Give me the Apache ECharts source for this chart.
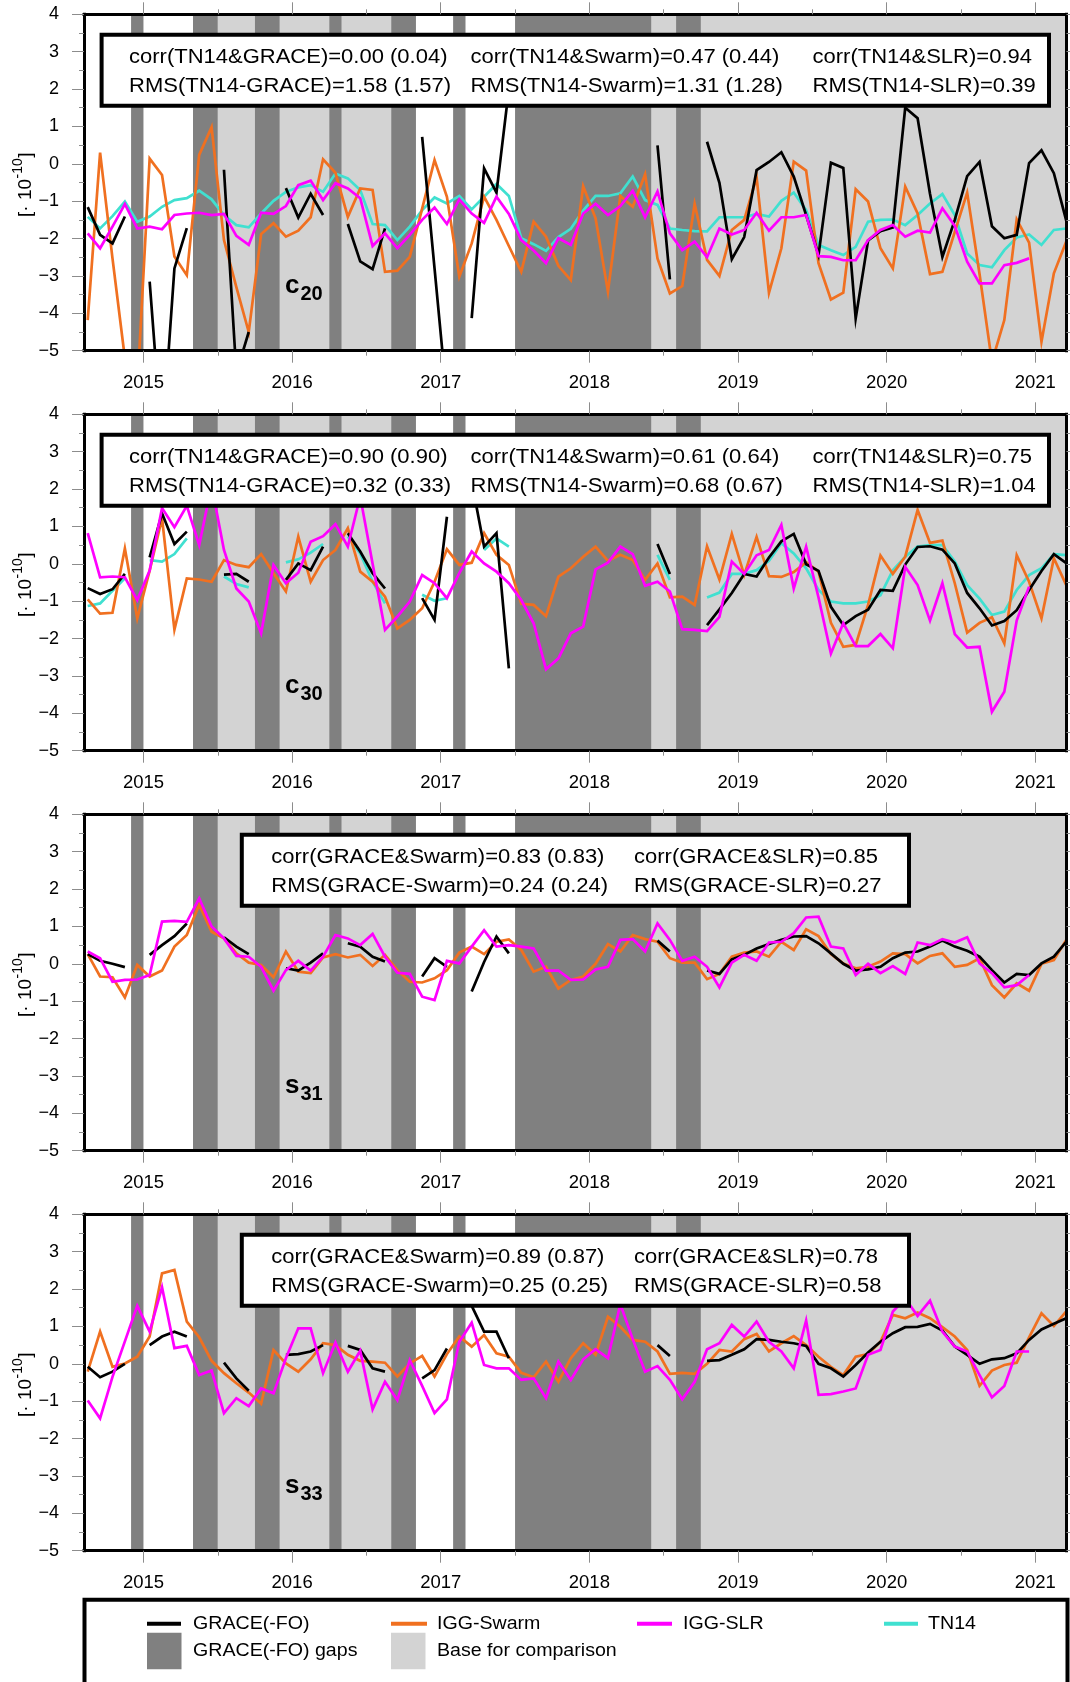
<!DOCTYPE html>
<html>
<head>
<meta charset="utf-8">
<title>GRACE(-FO), IGG-Swarm, IGG-SLR and TN14 low-degree coefficients</title>
<script src="https://cdn.jsdelivr.net/npm/echarts@6/dist/echarts.min.js"></script>
<style>
  html, body { margin: 0; padding: 0; background: #ffffff; }
  #chart { width: 1070px; height: 1682px; }
</style>
</head>
<body>
<div id="chart"></div>
<script>
// ---------------------------------------------------------------------------
// Monthly series, Aug 2014 .. Mar 2021 (80 months), values in 1e-10.
// null marks a month without a solution.
// ---------------------------------------------------------------------------
const N = null;

// Mid-month epochs (decimal years) starting August 2014
const MONTH_COUNT = 80;
const MONTHS = Array.from({ length: MONTH_COUNT }, (_, k) => 2014 + (7 + k + 0.5) / 12);

// Axis ticks
const YEAR_TICKS = [2015, 2016, 2017, 2018, 2019, 2020, 2021];
const HALF_YEAR_TICKS = [2015.5, 2016.5, 2017.5, 2018.5, 2019.5, 2020.5];

// GRACE(-FO) gap periods and periods used as comparison base [start, end]
const GAPS = [
  [2014.9167, 2015.0], [2015.3333, 2015.5], [2015.75, 2015.9167], [2016.25, 2016.3333],
  [2016.6667, 2016.8333], [2017.0833, 2017.1667], [2017.5, 2018.4167], [2018.5833, 2018.75]
];
const BASE = [
  [2015.5, 2015.75], [2015.9167, 2016.25], [2016.3333, 2016.6667],
  [2018.4167, 2018.5833], [2018.75, 2021.25]
];

// ---- C20 ----
const C20_GRACE = [
  -1.16, -1.9, -2.13, -1.41, N, -3.15, -7.5, -2.8, -1.72, N,
  N, -0.16, -5.6, -4.5, N, N, -0.65, -1.44, -0.8, -1.37,
  N, -1.61, -2.61, -2.82, -1.73, N, N, 0.72, -2.8, -6.3,
  N, -4.13, -0.12, -0.77, 2.0, N, N, N, N, N,
  N, N, N, N, N, N, 0.49, -3.09, N, N,
  0.59, -0.51, -2.55, -1.96, -0.17, 0.05, 0.31, -0.34, -1.37, -2.44,
  0.03, -0.11, -4.14, -2.05, -1.8, -1.7, 1.5, 1.22, -0.8, -2.49,
  -1.5, -0.33, 0.05, -1.67, -1.99, -1.9, 0.02, 0.36, -0.25, -1.52
];
const C20_SWARM = [
  -4.18, 0.3, -2.53, -5.2, -6.05, 0.14, -0.3, -2.48, -2.98, 0.24,
  0.98, -2.04, -3.3, -4.5, -1.88, -1.59, -1.95, -1.79, -1.43, 0.12,
  -0.24, -1.42, -0.66, -0.7, -2.89, -2.86, -2.49, -1.2, 0.1, -0.88,
  -3.02, -2.13, -0.88, -1.5, -2.2, -2.89, -1.55, -1.95, -2.73, -3.11,
  -0.6, -1.46, -3.42, -0.86, -1.15, -0.28, -2.53, -3.47, -3.27, -1.07,
  -2.57, -3.0, -1.77, -1.5, -0.36, -3.45, -2.26, 0.06, -0.18, -2.66,
  -3.63, -3.45, -0.68, -1.01, -2.26, -2.8, -0.61, -1.33, -2.95, -2.89,
  -1.82, -0.77, -2.95, -5.3, -4.18, -1.49, -2.11, -4.76, -2.93, -2.08
];
const C20_SLR = [
  -1.86, -2.26, -1.68, -1.08, -1.73, -1.68, -1.75, -1.37, -1.33, -1.31,
  -1.37, -1.34, -1.93, -2.17, -1.31, -1.34, -1.13, -0.57, -0.45, -0.97,
  -0.52, -0.66, -0.92, -2.2, -1.86, -2.26, -1.9, -1.5, -1.17, -1.61,
  -0.95, -1.33, -1.58, -0.88, -1.34, -2.04, -2.32, -2.66, -1.99, -2.17,
  -1.33, -1.07, -1.37, -1.13, -0.72, -1.43, -0.74, -1.86, -2.31, -2.08,
  -2.5, -1.73, -1.89, -1.77, -1.31, -1.79, -1.43, -1.43, -1.37, -2.47,
  -2.49, -2.58, -2.58, -2.04, -1.77, -1.64, -1.95, -1.79, -1.84, -1.19,
  -1.66, -2.62, -3.2, -3.2, -2.71, -2.65, -2.53
];
const C20_TN14 = [
  -1.42, -1.73, -1.4, -1.01, -1.55, -1.41, -1.15, -0.97, -0.92, -0.72,
  -0.95, -1.37, -1.64, -1.7, -1.33, -0.99, -0.75, -0.63, -0.57, -0.75,
  -0.26, -0.39, -0.7, -1.61, -1.64, -2.04, -1.68, -1.24, -0.9, -1.06,
  -0.86, -1.22, -0.88, -0.54, -0.86, -1.99, -2.15, -2.33, -1.96, -1.74,
  -1.25, -0.86, -0.86, -0.79, -0.34, -0.97, -1.1, -1.73, -1.77, -1.8,
  -1.81, -1.43, -1.43, -1.43, -1.34, -1.41, -0.99, -0.77, -1.24, -2.17,
  -2.31, -2.44, -2.22, -1.55, -1.5, -1.49, -1.64, -1.37, -1.06, -0.81,
  -1.37, -2.4, -2.71, -2.77, -2.31, -1.97, -1.89, -2.17, -1.77, -1.73
];

// ---- C30 ----
const C30_GRACE = [
  -0.65, -0.81, -0.68, -0.27, N, 0.17, 1.35, 0.53, 0.86, N,
  N, -0.29, -0.27, -0.48, N, N, -0.43, 0.01, -0.17, 0.46,
  N, 0.82, 0.33, -0.25, -0.66, N, N, -0.92, -1.5, 1.26,
  N, 2.2, 0.46, 0.82, -2.8, N, N, N, N, N,
  N, N, N, N, N, N, 0.53, -0.27, N, N,
  -1.64, -1.22, -0.78, -0.27, -0.34, 0.17, 0.6, 0.8, -0.01, -0.19,
  -1.15, -1.64, -1.4, -1.23, -0.7, -0.72, -0.02, 0.45, 0.47, 0.38,
  0.01, -0.78, -1.19, -1.65, -1.53, -1.24, -0.7, -0.19, 0.26, 0.02
];
const C30_SWARM = [
  -0.95, -1.33, -1.31, 0.41, -1.46, -0.18, 1.22, -1.76, -0.39, -0.42,
  -0.48, 0.1, -0.03, -0.09, 0.26, -0.25, -0.74, 0.73, -0.48, 0.1,
  0.37, 0.95, -0.21, -0.48, -0.88, -1.73, -1.5, -1.19, -0.48, 0.39,
  -0.03, 0.03, 0.82, 0.24, -0.03, -1.07, -1.1, -1.4, -0.34, -0.12,
  0.19, 0.46, 0.08, 0.24, 0.1, -0.43, 0.01, -0.9, -0.88, -1.1,
  0.47, -0.42, 0.8, -0.3, 0.72, -0.33, -0.35, -0.22, 0.04, -0.21,
  -1.58, -2.22, -2.17, -1.1, 0.22, -0.27, 0.19, 1.44, 0.56, 0.62,
  -0.52, -1.84, -1.58, -1.43, -2.13, 0.23, -0.48, -1.46, 0.15, -0.57
];
const C30_SLR = [
  0.82, -0.36, -0.34, -0.36, -0.97, -0.18, 1.49, 0.98, 1.55, 0.5,
  2.1, 0.37, -0.66, -1.01, -1.86, -0.03, -0.52, -0.24, 0.59, 0.74,
  1.06, 0.46, 1.8, 0.0, -1.77, -1.41, -1.01, -0.3, -0.52, -0.92,
  -0.25, 0.33, 0.01, -0.21, -0.52, -0.97, -1.59, -2.82, -2.53, -1.86,
  -1.68, -0.15, 0.03, 0.46, 0.26, -0.59, -0.48, -0.74, -1.75, -1.77,
  -1.8, -1.42, 0.06, -0.27, 0.23, 0.37, 1.04, -0.66, 0.46, -0.9,
  -2.4, -1.59, -2.2, -2.2, -1.88, -2.26, -0.08, -0.57, -1.52, -0.52,
  -1.88, -2.24, -2.22, -3.96, -3.42, -1.52, -0.61
];
const C30_TN14 = [
  -1.13, -1.06, -0.72, -0.39, N, 0.1, 0.06, 0.26, 0.68, N,
  N, -0.34, -0.54, -0.63, N, N, 0.04, 0.12, 0.3, 0.53,
  N, 0.73, 0.28, -0.48, -1.06, N, N, -0.83, -0.99, -0.92,
  N, N, 0.37, 0.68, 0.46, N, N, N, N, N,
  N, N, N, N, N, N, 0.24, -0.43, N, N,
  -0.9, -0.77, -0.27, -0.27, -0.17, 0.08, 0.55, 0.28, -0.12, -0.7,
  -1.01, -1.06, -1.06, -1.01, -0.84, -0.17, 0.19, 0.46, 0.5, 0.5,
  0.06, -0.57, -0.93, -1.37, -1.28, -0.7, -0.3, -0.12, 0.26, 0.23
];

// ---- S31 ----
const S31_GRACE = [
  0.26, 0.08, 0.0, -0.09, N, 0.24, 0.5, 0.74, 1.08, N,
  N, 0.71, 0.46, 0.26, N, N, -0.12, -0.18, 0.03, 0.28,
  N, 0.55, 0.46, 0.19, 0.06, N, N, -0.34, 0.15, -0.08,
  N, -0.74, 0.05, 0.73, 0.28, N, N, N, N, N,
  N, N, N, N, N, N, 0.62, 0.33, N, N,
  -0.18, -0.27, 0.12, 0.24, 0.41, 0.53, 0.64, 0.73, 0.74, 0.55,
  0.28, 0.0, -0.18, -0.15, -0.08, 0.15, 0.3, 0.33, 0.46, 0.62,
  0.46, 0.35, 0.19, -0.17, -0.5, -0.27, -0.3, 0.01, 0.19, 0.59
];
const S31_SWARM = [
  0.26, -0.34, -0.36, -0.9, -0.03, -0.34, -0.18, 0.46, 0.77, 1.58,
  0.86, 0.68, 0.28, 0.03, -0.03, -0.36, 0.33, -0.21, -0.25, 0.17,
  0.26, 0.17, 0.24, -0.06, 0.24, -0.17, -0.48, -0.5, -0.39, -0.17,
  0.3, 0.46, 0.26, 0.59, 0.65, 0.37, -0.21, -0.08, -0.66, -0.43,
  -0.34, 0.0, 0.53, 0.33, 0.77, 0.66, 0.59, 0.15, 0.03, 0.03,
  -0.41, -0.27, 0.19, 0.3, 0.33, 0.19, 0.59, 0.37, 0.92, 0.74,
  0.26, 0.01, -0.12, -0.08, 0.06, 0.28, 0.26, 0.01, 0.21, 0.28,
  -0.08, -0.03, 0.15, -0.57, -0.9, -0.52, -0.72, 0.0, 0.1, 0.64
];
const S31_SLR = [
  0.33, 0.15, -0.48, -0.43, -0.42, -0.3, 1.13, 1.15, 1.12, 1.75,
  1.0, 0.68, 0.21, 0.19, -0.08, -0.72, -0.17, 0.08, -0.18, 0.19,
  0.77, 0.68, 0.5, 0.8, 0.19, -0.24, -0.27, -0.88, -0.97, 0.08,
  0.01, 0.46, 0.9, 0.46, 0.5, 0.46, 0.41, -0.18, -0.18, -0.43,
  -0.42, -0.15, -0.08, 0.64, 0.66, 0.33, 1.08, 0.64, 0.08, 0.19,
  -0.08, -0.63, 0.03, 0.24, 0.08, 0.57, 0.59, 0.82, 1.24, 1.26,
  0.46, 0.41, -0.3, 0.0, -0.25, -0.06, -0.27, 0.57, 0.5, 0.66,
  0.57, 0.71, 0.01, -0.25, -0.63, -0.57, -0.3
];

// ---- S33 ----
const S33_GRACE = [
  -0.08, -0.36, -0.21, 0.0, N, 0.5, 0.73, 0.86, 0.73, N,
  N, 0.03, -0.39, -0.72, N, N, 0.24, 0.26, 0.33, 0.5,
  N, 0.48, 0.37, -0.12, -0.21, N, N, -0.39, -0.17, 0.41,
  N, 1.55, 0.86, 0.86, 0.15, N, N, N, N, N,
  N, N, N, N, N, N, 0.5, 0.21, N, N,
  0.08, 0.1, 0.24, 0.39, 0.66, 0.64, 0.59, 0.55, 0.48, 0.0,
  -0.12, -0.34, -0.03, 0.3, 0.59, 0.82, 0.98, 0.99, 1.07, 0.89,
  0.46, 0.24, 0.0, 0.12, 0.15, 0.28, 0.64, 0.92, 1.07, 1.22
];
const S33_SWARM = [
  -0.21, 0.86, -0.08, 0.01, 0.19, 0.73, 2.42, 2.51, 1.13, 0.71,
  0.08, -0.25, -0.52, -0.77, -1.07, 0.37, 0.01, -0.21, 0.12, 0.55,
  0.5, 0.24, 0.08, 0.06, 0.03, -0.34, 0.01, 0.21, -0.34, 0.26,
  0.73, 0.46, 0.77, 0.28, 0.19, -0.24, -0.36, 0.06, -0.48, 0.15,
  0.55, 0.24, 1.26, 0.99, 0.64, 0.59, 0.33, -0.27, -0.24, -0.27,
  0.0, 0.37, 0.33, 0.66, 0.8, 0.33, 0.55, 0.74, 0.5, 0.19,
  -0.08, -0.3, 0.19, 0.26, 0.59, 1.31, 1.22, 1.37, 1.22, 0.98,
  0.73, 0.37, -0.59, -0.18, -0.03, 0.03, 0.71, 1.35, 1.01, 1.4
];
const S33_SLR = [
  -0.98, -1.46, -0.35, 0.6, 1.55, 0.86, 2.05, 0.42, 0.48, -0.3,
  -0.18, -1.32, -0.92, -1.13, -0.66, -0.79, 0.15, 0.95, 0.95, -0.25,
  0.57, -0.21, 0.35, -1.22, -0.48, -0.97, 0.1, -0.59, -1.32, -0.95,
  0.59, 1.1, -0.03, -0.12, -0.12, -0.43, -0.39, -0.92, 0.06, -0.43,
  0.12, 0.39, 0.15, 1.6, 0.66, -0.21, -0.06, -0.43, -0.95, -0.48,
  0.39, 0.55, 1.04, 0.73, 1.13, 0.59, 0.33, -0.12, 1.16, -0.83,
  -0.81, -0.74, -0.66, 0.24, 0.37, 1.4, 1.75, 1.28, 1.69, 0.86,
  0.46, 0.33, -0.3, -0.9, -0.59, 0.33, 0.33
];

// Statistics printed in each panel: [row][column]
const STATS_C20 = [
  ['corr(TN14&GRACE)=0.00 (0.04)', 'corr(TN14&Swarm)=0.47 (0.44)', 'corr(TN14&SLR)=0.94'],
  ['RMS(TN14-GRACE)=1.58 (1.57)', 'RMS(TN14-Swarm)=1.31 (1.28)', 'RMS(TN14-SLR)=0.39']
];
const STATS_C30 = [
  ['corr(TN14&GRACE)=0.90 (0.90)', 'corr(TN14&Swarm)=0.61 (0.64)', 'corr(TN14&SLR)=0.75'],
  ['RMS(TN14-GRACE)=0.32 (0.33)', 'RMS(TN14-Swarm)=0.68 (0.67)', 'RMS(TN14-SLR)=1.04']
];
const STATS_S31 = [
  ['corr(GRACE&Swarm)=0.83 (0.83)', 'corr(GRACE&SLR)=0.85'],
  ['RMS(GRACE-Swarm)=0.24 (0.24)', 'RMS(GRACE-SLR)=0.27']
];
const STATS_S33 = [
  ['corr(GRACE&Swarm)=0.89 (0.87)', 'corr(GRACE&SLR)=0.78'],
  ['RMS(GRACE-Swarm)=0.25 (0.25)', 'RMS(GRACE-SLR)=0.58']
];

// Legend entries
const LINE_LEGEND = ['GRACE(-FO)', 'IGG-Swarm', 'IGG-SLR', 'TN14'];
const AREA_LEGEND = ['GRACE(-FO) gaps', 'Base for comparison'];

// Unit of the vertical axis: main part, exponent, closing bracket
const UNIT_PARTS = ['[\u00b7 10', '-10', ']'];

// ---------------------------------------------------------------------------
// Styling and layout
// ---------------------------------------------------------------------------
const FONT = '"Liberation Sans", Arial, Helvetica, sans-serif';
const COL_GRACE = '#000000';
const COL_SWARM = '#f07020';
const COL_SLR = '#ff00ff';
const COL_TN14 = '#40e0d0';
const COL_GAP = '#808080';
const COL_BASE = '#d3d3d3';
const COL_TICK = '#8c8c8c';
const LINE_WIDTH = 2.7;

const X_MIN = 2014.6, X_MAX = 2021.21;
const Y_MIN = -5, Y_MAX = 4;
const PLOT_LEFT = 84, PLOT_WIDTH = 982.5, PLOT_HEIGHT = 336.4;
const PANEL_TOP0 = 14.3, PANEL_STEP = 400;

const PANELS = [
  { sym: 'c', deg: '20', grace: C20_GRACE, swarm: C20_SWARM, slr: C20_SLR, tn14: C20_TN14, stats: STATS_C20, wide: true },
  { sym: 'c', deg: '30', grace: C30_GRACE, swarm: C30_SWARM, slr: C30_SLR, tn14: C30_TN14, stats: STATS_C30, wide: true },
  { sym: 's', deg: '31', grace: S31_GRACE, swarm: S31_SWARM, slr: S31_SLR, tn14: null, stats: STATS_S31, wide: false },
  { sym: 's', deg: '33', grace: S33_GRACE, swarm: S33_SWARM, slr: S33_SLR, tn14: null, stats: STATS_S33, wide: false }
];

const SHADE_ROWS = BASE.map(b => [b[0], Math.min(b[1], X_MAX), 0])
  .concat(GAPS.map(g => [g[0], g[1], 1]));

function renderShade(params, api) {
  const cs = params.coordSys;
  const a = api.coord([api.value(0), Y_MAX]);
  const b = api.coord([api.value(1), Y_MIN]);
  const x0 = Math.max(a[0], cs.x);
  const x1 = Math.min(b[0], cs.x + cs.width);
  if (x1 <= x0) return null;
  return {
    type: 'rect',
    shape: { x: x0, y: a[1], width: x1 - x0, height: b[1] - a[1] },
    style: { fill: api.value(2) ? COL_GAP : COL_BASE }
  };
}

const minusLabel = v => (v < 0 ? '\u2212' + Math.abs(v) : String(v));

function textEl(x, y, text, size, opts) {
  const o = opts || {};
  return {
    type: 'text', z: 50, silent: true,
    x: x, y: y,
    scaleX: o.scaleX || 1,
    rotation: o.rotation || 0,
    style: {
      text: text,
      fontSize: size,
      fontFamily: FONT,
      fontWeight: o.weight || 'normal',
      fill: '#000',
      align: o.align || 'left',
      verticalAlign: o.valign || 'middle',
      textAlign: o.align || 'left',
      textVerticalAlign: o.valign || 'middle',
      rich: o.rich
    }
  };
}

const grids = [], xAxes = [], yAxes = [], series = [], graphics = [];

PANELS.forEach((p, k) => {
  const top = PANEL_TOP0 + k * PANEL_STEP;
  grids.push({ left: PLOT_LEFT, top: top, width: PLOT_WIDTH, height: PLOT_HEIGHT, containLabel: false });

  const frameLine = { show: true, onZero: false, lineStyle: { color: '#000', width: 3, cap: 'square' } };
  const xBase = { type: 'value', gridIndex: k, min: X_MIN, max: X_MAX, splitLine: { show: false }, z: 10 };
  const majorTick = { show: true, customValues: YEAR_TICKS, length: 12, lineStyle: { color: COL_TICK, width: 1 } };
  const minorTick = { show: true, customValues: HALF_YEAR_TICKS, length: 5, lineStyle: { color: COL_TICK, width: 1 } };

  xAxes.push(Object.assign({}, xBase, {
    position: 'bottom', axisLine: frameLine, axisTick: majorTick,
    axisLabel: {
      show: true, customValues: YEAR_TICKS, margin: 23, fontSize: 18.5, fontFamily: FONT, color: '#000',
      formatter: v => String(Math.round(v))
    }
  }));
  xAxes.push(Object.assign({}, xBase, {
    position: 'bottom', axisLine: { show: false, onZero: false }, axisTick: minorTick, axisLabel: { show: false }
  }));
  xAxes.push(Object.assign({}, xBase, {
    position: 'top', axisLine: frameLine, axisTick: majorTick, axisLabel: { show: false }
  }));
  xAxes.push(Object.assign({}, xBase, {
    position: 'top', axisLine: { show: false, onZero: false }, axisTick: minorTick, axisLabel: { show: false }
  }));

  const yBase = {
    type: 'value', gridIndex: k, min: Y_MIN, max: Y_MAX, interval: 1, splitLine: { show: false }, z: 10,
    axisLine: frameLine,
    axisTick: { show: true, length: 12, lineStyle: { color: COL_TICK, width: 1 } },
    minorTick: { show: true, splitNumber: 2, length: 5, lineStyle: { color: COL_TICK, width: 1 } }
  };
  yAxes.push(Object.assign({}, yBase, {
    position: 'left',
    axisLabel: { show: true, margin: 25, fontSize: 18, fontFamily: FONT, color: '#000', formatter: minusLabel }
  }));
  yAxes.push(Object.assign({}, yBase, { position: 'right', axisLabel: { show: false } }));

  // shaded periods
  series.push({
    type: 'custom', xAxisIndex: 4 * k, yAxisIndex: 2 * k, z: 1, silent: true, animation: false,
    data: SHADE_ROWS, renderItem: renderShade, encode: { x: [0, 1] }
  });

  const addLine = (name, arr, color) => {
    if (!arr) return;
    series.push({
      type: 'line', name: name, xAxisIndex: 4 * k, yAxisIndex: 2 * k, z: 3,
      data: arr.map((v, i) => [MONTHS[i], v === null ? '-' : v]),
      symbol: 'none', showSymbol: false, connectNulls: false, clip: true,
      silent: true, animation: false,
      lineStyle: { color: color, width: LINE_WIDTH, join: 'miter' }, itemStyle: { color: color }
    });
  };
  addLine('TN14', p.tn14, COL_TN14);
  addLine('IGG-Swarm', p.swarm, COL_SWARM);
  addLine('GRACE(-FO)', p.grace, COL_GRACE);
  addLine('IGG-SLR', p.slr, COL_SLR);

  // statistics box
  const bx0 = p.wide ? 101.6 : 241.8;
  const bx1 = p.wide ? 1049 : 909;
  const cols = p.wide ? [129, 470.5, 812.5] : [271.3, 634];
  graphics.push({
    type: 'rect', z: 49, silent: true,
    shape: { x: bx0, y: top + 20.4, width: bx1 - bx0, height: 71 },
    style: { fill: '#ffffff', stroke: '#000000', lineWidth: 4 }
  });
  p.stats.forEach((row, r) => {
    row.forEach((txt, c) => {
      graphics.push(textEl(cols[c], top + 42.7 + r * 29, txt, 20, { scaleX: 1.1 }));
    });
  });

  // coefficient label with subscript degree/order
  graphics.push(textEl(285, top + 258.5, '{m|' + p.sym + '}{s|' + p.deg + '}', 26, {
    weight: 'bold', valign: 'top',
    rich: {
      m: { fontSize: 26, fontWeight: 'bold', fontFamily: FONT, lineHeight: 26, verticalAlign: 'top' },
      s: { fontSize: 20, fontWeight: 'bold', fontFamily: FONT, lineHeight: 20, verticalAlign: 'top', padding: [12, 0, 0, 1] }
    }
  }));

  // y-axis unit, written bottom-to-top: "[· 10" with raised exponent and closing bracket
  const up = { rotation: Math.PI / 2, align: 'left', valign: 'middle' };
  graphics.push(textEl(25.5, top + 202.7, UNIT_PARTS[0], 19, up));
  graphics.push(textEl(18.5, top + 164.2, UNIT_PARTS[1], 14, up));
  graphics.push(textEl(25.5, top + 143.5, UNIT_PARTS[2], 19, up));
});

// ---------------------------------------------------------------------------
// Legend box at the bottom
// ---------------------------------------------------------------------------
graphics.push({
  type: 'rect', z: 49, silent: true,
  shape: { x: 84.5, y: 1599.7, width: 983, height: 200 },
  style: { fill: '#ffffff', stroke: '#000000', lineWidth: 4 }
});
const legendLineX = [[147, 181], [391, 427], [637, 672], [884, 918]];
const legendTextX = [193, 437, 683, 928];
const legendLineColors = [COL_GRACE, COL_SWARM, COL_SLR, COL_TN14];
LINE_LEGEND.forEach((name, i) => {
  graphics.push({
    type: 'line', z: 50, silent: true,
    shape: { x1: legendLineX[i][0], y1: 1623.8, x2: legendLineX[i][1], y2: 1623.8 },
    style: { stroke: legendLineColors[i], lineWidth: 4 }
  });
  graphics.push(textEl(legendTextX[i], 1624.5, name, 17.5, { scaleX: 1.12 }));
});
const areaColors = [COL_GAP, COL_BASE];
AREA_LEGEND.forEach((name, i) => {
  graphics.push({
    type: 'rect', z: 50, silent: true,
    shape: { x: legendLineX[i][0], y: 1632.7, width: 34.5, height: 36.6 },
    style: { fill: areaColors[i] }
  });
  graphics.push(textEl(legendTextX[i], 1651.3, name, 17.5, { scaleX: 1.12 }));
});

const chart = echarts.init(document.getElementById('chart'), null, { renderer: 'canvas' });
chart.setOption({
  backgroundColor: '#ffffff',
  animation: false,
  textStyle: { fontFamily: FONT },
  grid: grids,
  xAxis: xAxes,
  yAxis: yAxes,
  series: series,
  graphic: { elements: graphics }
});
</script>
</body>
</html>
